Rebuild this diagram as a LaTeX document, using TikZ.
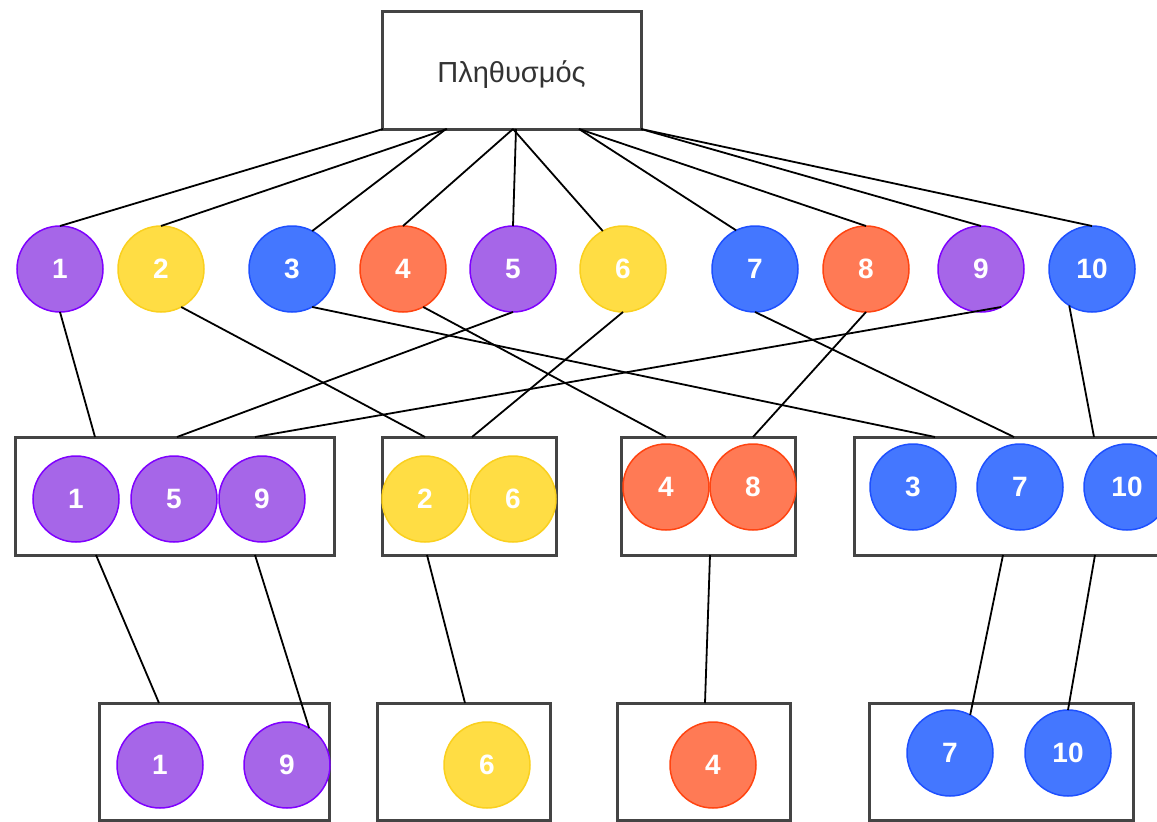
\documentclass[tikz,border=0pt]{standalone}
\usepackage{fontspec}
\setmainfont{Liberation Sans}
\definecolor{pfill}{RGB}{166,102,232}
\definecolor{pline}{RGB}{127,0,255}
\definecolor{yfill}{RGB}{255,221,68}
\definecolor{yline}{RGB}{250,208,30}
\definecolor{bfill}{RGB}{68,119,255}
\definecolor{bline}{RGB}{30,80,255}
\definecolor{ofill}{RGB}{255,122,85}
\definecolor{oline}{RGB}{255,68,17}
\definecolor{boxline}{RGB}{68,68,68}
\definecolor{txtgray}{RGB}{51,51,51}
\tikzset{
  ball/.style={circle, minimum size=86pt, inner sep=0pt, outer sep=0pt, line width=1.5pt, text=white, font=\bfseries\fontsize{28}{28}\selectfont},
  pu/.style={ball, fill=pfill, draw=pline},
  ye/.style={ball, fill=yfill, draw=yline},
  bl/.style={ball, fill=bfill, draw=bline},
  or/.style={ball, fill=ofill, draw=oline},
  grp/.style={draw=boxline, line width=3pt, fill=white, inner sep=0pt, outer sep=0pt, anchor=north west},
  conn/.style={line width=1.8pt, black}
}
\begin{document}
\begin{tikzpicture}[x=1pt,y=-1pt]
\useasboundingbox (0,0) rectangle (1157,822);
\clip (0,0) rectangle (1157,822);
% top
\node[grp, minimum width=259pt, minimum height=118pt, text=txtgray, font=\fontsize{29}{29}\selectfont] (top) at (382,11) {\raisebox{-5pt}[\height][\depth]{Πληθυσμός}};
% row 1
\node[pu] (a1) at (60,269) {1};
\node[ye] (a2) at (161,269) {2};
\node[bl] (a3) at (292,269) {3};
\node[or] (a4) at (403,269) {4};
\node[pu] (a5) at (513,269) {5};
\node[ye] (a6) at (623,269) {6};
\node[bl] (a7) at (755,269) {7};
\node[or] (a8) at (866,269) {8};
\node[pu] (a9) at (981,269) {9};
\node[bl] (a10) at (1092,269) {10};
% row 2 boxes
\node[grp, minimum width=319pt, minimum height=118pt] (b1) at (15,437) {};
\node[grp, minimum width=174pt, minimum height=118pt] (b2) at (382,437) {};
\node[grp, minimum width=174pt, minimum height=118pt] (b3) at (621,437) {};
\node[grp, minimum width=340pt, minimum height=118pt] (b4) at (854,437) {};
\node[pu] (c1) at (76,499) {1};
\node[pu] (c5) at (174,499) {5};
\node[pu] (c9) at (262,499) {9};
\node[ye] (c2) at (425,499) {2};
\node[ye] (c6) at (513,499) {6};
\node[or] (c4) at (666,487) {4};
\node[or] (c8) at (753,487) {8};
\node[bl] (c3) at (913,487) {3};
\node[bl] (c7) at (1020,487) {7};
\node[bl] (c10) at (1127,487) {10};
% row 3 boxes
\node[grp, minimum width=230pt, minimum height=117pt] (d1) at (99,703) {};
\node[grp, minimum width=173pt, minimum height=117pt] (d2) at (377,703) {};
\node[grp, minimum width=173pt, minimum height=117pt] (d3) at (617,703) {};
\node[grp, minimum width=264pt, minimum height=117pt] (d4) at (869,703) {};
\node[pu] (e1) at (160,765) {1};
\node[pu] (e9) at (287,765) {9};
\node[ye] (e6) at (487,765) {6};
\node[or] (e4) at (713,765) {4};
\node[bl] (e7) at (950,753) {7};
\node[bl] (e10) at (1068,753) {10};
% connectors top -> row 1
\draw[conn] ([xshift=1pt]top.south west) -- (a1.north);
\draw[conn] ([xshift=65pt]top.south west) -- (a2.north);
\draw[conn] ([xshift=64pt]top.south west) -- (a3.62);
\draw[conn] ([xshift=131pt]top.south west) -- (a4.north);
\draw[conn] ([xshift=134pt]top.south west) -- (a5.north);
\draw[conn] ([xshift=131pt]top.south west) -- (a6.118);
\draw[conn] ([xshift=197pt]top.south west) -- (a7.116);
\draw[conn] ([xshift=197pt]top.south west) -- (a8.north);
\draw[conn] (top.south east) -- (a9.north);
\draw[conn] (top.south east) -- (a10.north);
% row 1 -> row 2
\draw[conn] (a1.south) -- ([xshift=80pt]b1.north west);
\draw[conn] (a2.-62) -- ([xshift=43pt]b2.north west);
\draw[conn] (a3.-62) -- ([xshift=81pt]b4.north west);
\draw[conn] (a4.-62) -- ([xshift=45pt]b3.north west);
\draw[conn] (a5.south) -- ([xshift=162pt]b1.north west);
\draw[conn] (a6.south) -- ([xshift=90pt]b2.north west);
\draw[conn] (a7.south) -- ([xshift=160pt]b4.north west);
\draw[conn] (a8.south) -- ([xshift=132pt]b3.north west);
\draw[conn] (a9.-62) -- ([xshift=240pt]b1.north west);
\draw[conn] (a10.-122) -- ([xshift=240pt]b4.north west);
% row 2 -> row 3
\draw[conn] ([xshift=81pt]b1.south west) -- ([xshift=60pt]d1.north west);
\draw[conn] ([xshift=240pt]b1.south west) -- (e9.59);
\draw[conn] ([xshift=45pt]b2.south west) -- ([xshift=88pt]d2.north west);
\draw[conn] ([xshift=89pt]b3.south west) -- ([xshift=88pt]d3.north west);
\draw[conn] ([xshift=149pt]b4.south west) -- (e7.62);
\draw[conn] ([xshift=241pt]b4.south west) -- (e10.north);
\end{tikzpicture}
\end{document}
